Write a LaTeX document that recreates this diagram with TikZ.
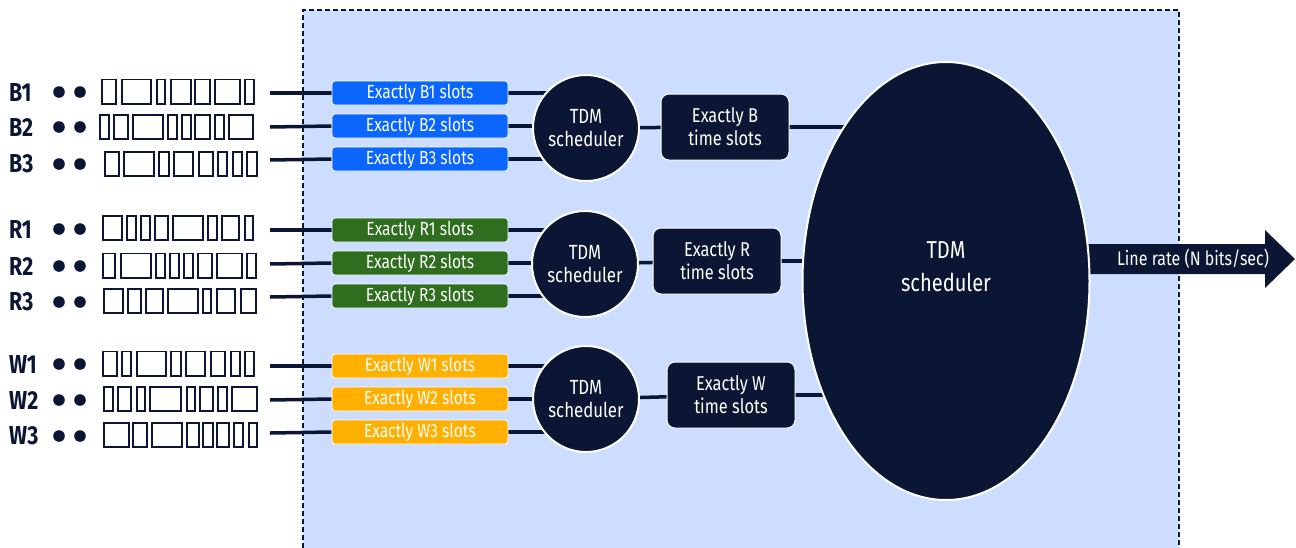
\documentclass[tikz,border=0pt]{standalone}
\usepackage{fontspec}
\setmainfont{Fira Sans}[FakeStretch=0.82]
\usetikzlibrary{shapes.geometric}
\definecolor{navy}{HTML}{0A1633}
\definecolor{bgblue}{HTML}{CCDDFF}
\definecolor{cblue}{HTML}{0A66FF}
\definecolor{cgreen}{HTML}{2E6E1E}
\definecolor{corange}{HTML}{FFB000}
\pgfdeclarelayer{back}
\pgfdeclarelayer{mid}
\pgfsetlayers{back,mid,main}
\tikzset{
  slotbox/.style={draw=navy, line width=1.8pt},
  conn/.style={draw=navy, line width=3.5pt},
  lab/.style={anchor=west, text=navy, inner sep=0pt, font=\bfseries\fontsize{26}{28}\selectfont},
  cbox/.style={rectangle, rounded corners=3pt, draw=white, line width=0.8pt, minimum width=176pt, minimum height=24pt, inner sep=0pt, text=white, font=\fontsize{19}{20}\selectfont},
  sched/.style={circle, fill=navy, draw=white, line width=2pt, minimum size=106pt, inner sep=0pt, text=white, align=center, font=\fontsize{20.5}{23}\selectfont},
  tbox/.style={rectangle, rounded corners=8pt, fill=navy, draw=white, line width=1pt, minimum width=128pt, minimum height=66pt, inner sep=0pt, text=white, align=center, font=\fontsize{20}{23}\selectfont},
  big/.style={ellipse, fill=navy, draw=white, line width=2pt, minimum width=287pt, minimum height=438pt, inner sep=0pt},
}
\newcommand\slotrow[2]{\foreach \a/\b in {#2} {\draw[slotbox] (\a+0.9,#1-12.1) rectangle (\b-0.9,#1+12.1);}}
\newcommand\dotpair[1]{\fill[navy] (59,#1) circle [radius=5.8pt]; \fill[navy] (80,#1) circle [radius=5.8pt];}
\begin{document}
\begin{tikzpicture}[x=1pt,y=-1pt]
\useasboundingbox (0,0) rectangle (1296,547);
\begin{pgfonlayer}{back}
\fill[bgblue] (303,10) rectangle (1179,548);
\draw[navy, line width=1.2pt, dash pattern=on 5pt off 3pt] (303,548) -- (303,10) -- (1179,10) -- (1179,548);
\end{pgfonlayer}

% labels, dots, slot rows
\node[lab] (lB1) at (9,92) {B1};
\node[lab] (lB2) at (9,127) {B2};
\node[lab] (lB3) at (9,164) {B3};
\node[lab] (lR1) at (9,229) {R1};
\node[lab] (lR2) at (9,266) {R2};
\node[lab] (lR3) at (9,302) {R3};
\node[lab] (lW1) at (9,364) {W1};
\node[lab] (lW2) at (9,400) {W2};
\node[lab] (lW3) at (9,436) {W3};
\dotpair{92}\dotpair{127}\dotpair{164}
\dotpair{229}\dotpair{266}\dotpair{302}
\dotpair{364}\dotpair{400}\dotpair{436}
\slotrow{91.5}{101/117,121/152,156/166,170/192,194/211,214/241,244/255}
\slotrow{127}{99/110,113/129,132/164,167/178,181/192,194/211,214/225,228/254}
\slotrow{164}{104/120,123/155,158/170,173/194,198/214,217/228,232/243,246/258}
\slotrow{228}{102/123,126/137,140/151,154/169,172/204,207/218,221/240,244/254}
\slotrow{265.5}{102/116,120/152,155/166,169/180,183/194,197/213,216/243,246/257}
\slotrow{301}{103/124,127/142,145/164,167/199,202/212,216/236,240/257}
\slotrow{363.5}{102/118,121/132,136/167,170/182,185/206,210/226,230/241,244/255}
\slotrow{399}{103/114,117/132,136/146,149/182,186/196,199/214,217/228,231/258}
\slotrow{435}{103/130,132/148,151/183,186/200,202/214,216/230,233/244,248/258}

% row line starts
\coordinate (sB1) at (270,93);
\coordinate (sB2) at (270,127);
\coordinate (sB3) at (270,160);
\coordinate (sR1) at (270,230);
\coordinate (sR2) at (270,264);
\coordinate (sR3) at (270,297);
\coordinate (sW1) at (270,366);
\coordinate (sW2) at (270,400);
\coordinate (sW3) at (270,433);

% colored boxes
\node[cbox, fill=cblue] (cB1) at (420,93) {Exactly B1 slots};
\node[cbox, fill=cblue] (cB2) at (420,126) {Exactly B2 slots};
\node[cbox, fill=cblue] (cB3) at (420,159) {Exactly B3 slots};
\node[cbox, fill=cgreen] (cR1) at (420,230) {Exactly R1 slots};
\node[cbox, fill=cgreen] (cR2) at (420,263) {Exactly R2 slots};
\node[cbox, fill=cgreen] (cR3) at (420,296) {Exactly R3 slots};
\node[cbox, fill=corange] (cW1) at (420,366) {Exactly W1 slots};
\node[cbox, fill=corange] (cW2) at (420,399) {Exactly W2 slots};
\node[cbox, fill=corange] (cW3) at (420,432) {Exactly W3 slots};

% schedulers
\node[sched] (tB) at (586,128) {TDM\\scheduler};
\node[sched] (tR) at (585,264) {TDM\\scheduler};
\node[sched] (tW) at (586,399) {TDM\\scheduler};

% time slot boxes
\node[tbox] (xB) at (725,127) {Exactly B\\time slots};
\node[tbox] (xR) at (717,261) {Exactly R\\time slots};
\node[tbox] (xW) at (731,395) {Exactly W\\time slots};

% big scheduler
\node[big] (big) at (946,281) {};
\node[text=white, align=center, inner sep=0pt, font=\fontsize{24.5}{33}\selectfont] (bigtxt) at (946,267) {TDM\\scheduler};

% output arrow
\node[text=white, inner sep=0pt, font=\fontsize{19.5}{21}\selectfont] (rate) at (1193,259) {Line rate (N bits/sec)};

\begin{pgfonlayer}{mid}
\foreach \r in {B1,B2,B3,R1,R2,R3,W1,W2,W3} {\draw[conn] (s\r) -- (c\r.west);}
\foreach \r in {B1,B2,B3} {\draw[conn] (c\r.east) -- (c\r.east -| tB.center);}
\foreach \r in {R1,R2,R3} {\draw[conn] (c\r.east) -- (c\r.east -| tR.center);}
\foreach \r in {W1,W2,W3} {\draw[conn] (c\r.east) -- (c\r.east -| tW.center);}
\draw[conn] (tB.center) -- (xB.center);
\draw[conn] (tR.center) -- (xR.center);
\draw[conn] (tW.center) -- (xW.center);
\draw[conn] (xB.center) -- (xB.center -| big.center);
\draw[conn] (xR.center) -- (xR.center -| big.center);
\draw[conn] (xW.center) -- (xW.center -| big.center);
\fill[navy] (big.center |- rate) ++(0,-15) -- (1265,244) -- (1265,230) -- (1295,259) -- (1265,288) -- (1265,274) -- (946,274) -- cycle;
\end{pgfonlayer}
\end{tikzpicture}
\end{document}
